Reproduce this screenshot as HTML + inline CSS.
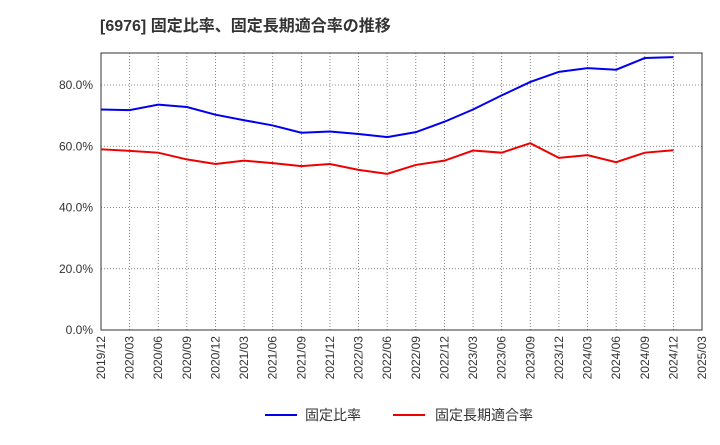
<!DOCTYPE html>
<html><head><meta charset="utf-8"><style>
body{margin:0;background:#fff;font-family:"Liberation Sans","Noto Sans CJK JP",sans-serif;}
</style></head><body>
<svg width="720" height="440" xmlns="http://www.w3.org/2000/svg">
<text x="100" y="31" font-size="16" font-weight="bold" fill="#333">[6976]  固定比率、固定長期適合率の推移</text>
<g id="grid"></g><g id="axes"></g><g id="series"></g>
<g>
<line x1="265" y1="415" x2="297" y2="415" stroke="#0000ee" stroke-width="2"/>
<text x="305" y="420" font-size="14" fill="#333">固定比率</text>
<line x1="393" y1="415" x2="425" y2="415" stroke="#ee0000" stroke-width="2"/>
<text x="435" y="420" font-size="14" fill="#333">固定長期適合率</text>
</g>
</svg>
<script>
const categories=["2019/12","2020/03","2020/06","2020/09","2020/12","2021/03","2021/06","2021/09","2021/12","2022/03","2022/06","2022/09","2022/12","2023/03","2023/06","2023/09","2023/12","2024/03","2024/06","2024/09","2024/12","2025/03"];
const fixedRatio=[72.0,71.8,73.6,72.8,70.3,68.5,66.8,64.4,64.8,64.0,63.0,64.6,68.0,72.0,76.6,81.0,84.3,85.5,85.0,88.8,89.1];
const longTermRatio=[59.0,58.5,57.9,55.7,54.2,55.3,54.5,53.5,54.2,52.3,51.0,53.9,55.3,58.6,57.9,61.0,56.2,57.1,54.8,57.9,58.7];
const yTicks=[0,20,40,60,80];
const NS="http://www.w3.org/2000/svg";
const L=101,R=702,T=53,B=330;
const x=i=>L+(R-L)*i/(categories.length-1);
const y=v=>B-v*(B-85)/80;
function mk(tag,attrs,parent){const e=document.createElementNS(NS,tag);for(const k in attrs)e.setAttribute(k,attrs[k]);parent.appendChild(e);return e;}
const grid=document.getElementById('grid'),axes=document.getElementById('axes'),series=document.getElementById('series');
categories.forEach((c,i)=>{
 const g=mk('line',{x1:x(i),x2:x(i),y1:T,y2:B,stroke:'#666','stroke-dasharray':'1,2','stroke-width':0.8},grid);
 
 
 const t=mk('text',{x:0,y:0,'font-size':12,fill:'#333','text-anchor':'end',transform:`translate(${x(i)+4},${B+6}) rotate(-90)`},axes);
 t.textContent=c;
 
 
});
yTicks.forEach(v=>{
 const g=mk('line',{x1:L,x2:R,y1:y(v),y2:y(v),stroke:'#666','stroke-dasharray':'1,2','stroke-width':0.8},grid);
 
 
 const t=mk('text',{x:L-8,y:y(v)+4,'font-size':12,fill:'#333','text-anchor':'end'},axes);
 t.textContent=v.toFixed(1)+'%';
 
 
});
const fr=mk('rect',{x:L,y:T,width:R-L,height:B-T,fill:'none',stroke:'#333','stroke-width':1},axes);


function line(vals,color,name){
 const p=mk('polyline',{points:vals.map((v,i)=>x(i)+','+y(v)).join(' '),fill:'none',stroke:color,'stroke-width':2},series);
 
 
}
line(fixedRatio,'#0000ee','fixed-ratio-line');
line(longTermRatio,'#ee0000','long-term-ratio-line');
</script>
</body></html>
